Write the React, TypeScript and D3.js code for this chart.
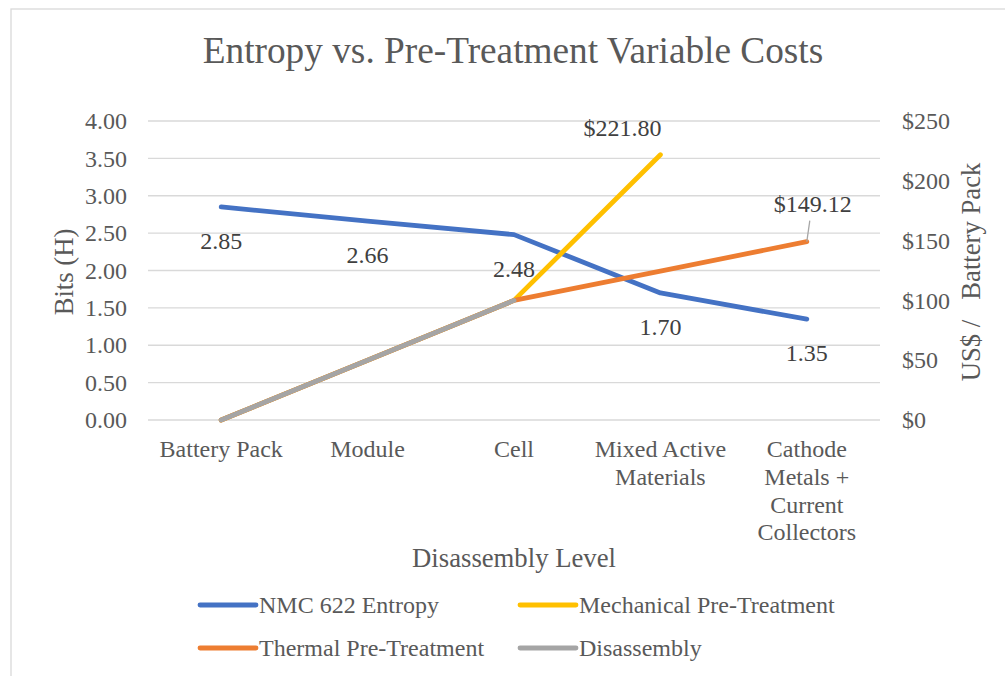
import React from 'react';
import * as d3 from 'd3';

const categories = [
  ['Battery Pack'],
  ['Module'],
  ['Cell'],
  ['Mixed Active', 'Materials'],
  ['Cathode', 'Metals +', 'Current', 'Collectors'],
];

const entropy = [2.85, 2.66, 2.48, 1.7, 1.35];
const mechanical = [0, 50, 100, 221.8, null];
const thermal = [0, 50, 100, 124.5, 149.12];
const disassembly = [0, 50, 100, null, null];

const leftTicks = [0, 0.5, 1, 1.5, 2, 2.5, 3, 3.5, 4];
const rightTicks = [0, 50, 100, 150, 200, 250];

const COLORS = {
  entropy: '#4472C4',
  mechanical: '#FFC000',
  thermal: '#ED7D31',
  disassembly: '#A5A5A5',
};

const FONT = '"Liberation Serif", "Times New Roman", serif';
const TEXT = '#595959';
const LABEL = '#404040';
const GRID = '#D9D9D9';

export default function App() {
  const width = 1005;
  const height = 676;
  const plot = { left: 148, right: 880, top: 121, bottom: 420 };

  const keys = categories.map((c) => c.join(' '));
  const x = d3.scalePoint<string>().domain(keys).range([plot.left, plot.right]).padding(0.5);
  const yL = d3.scaleLinear().domain([0, 4]).range([plot.bottom, plot.top]);
  const yR = d3.scaleLinear().domain([0, 250]).range([plot.bottom, plot.top]);

  const lineFor = (vals: (number | null)[], y: d3.ScaleLinear<number, number>) =>
    d3
      .line<number | null>()
      .defined((d) => d !== null)
      .x((_, i) => x(keys[i]) ?? 0)
      .y((d) => y(d as number))(vals) ?? '';

  const series = [
    { name: 'NMC 622 Entropy', vals: entropy, y: yL, color: COLORS.entropy },
    { name: 'Mechanical Pre-Treatment', vals: mechanical, y: yR, color: COLORS.mechanical },
    { name: 'Thermal Pre-Treatment', vals: thermal, y: yR, color: COLORS.thermal },
    { name: 'Disassembly', vals: disassembly, y: yR, color: COLORS.disassembly },
  ];

  const mechX = x(keys[3]) ?? 0;
  const mechY = yR(mechanical[3] as number);
  const thermX = x(keys[4]) ?? 0;
  const thermY = yR(thermal[4]);

  const legend = [
    { s: series[0], lx: 200, ly: 605 },
    { s: series[1], lx: 520, ly: 605 },
    { s: series[2], lx: 200, ly: 648 },
    { s: series[3], lx: 520, ly: 648 },
  ];

  return (
    <svg
      width={width}
      height={height}
      style={{ position: 'absolute', left: 0, top: 0, background: '#fff' }}
      fontFamily={FONT}
    >
      <rect x={11} y={9} width={1100} height={800} fill="#fff" stroke={GRID} strokeWidth={1.3} />

      <text x={513} y={63} textAnchor="middle" fontSize={37.3} fill={TEXT}>
        Entropy vs. Pre-Treatment Variable Costs
      </text>

      {/* gridlines */}
      {leftTicks.map((t) => (
        <line key={t} x1={plot.left} x2={plot.right} y1={yL(t)} y2={yL(t)} stroke={GRID} strokeWidth={1.3} />
      ))}

      {/* left ticks */}
      {leftTicks.map((t) => (
        <text key={t} x={127} y={yL(t)} dy="0.34em" textAnchor="end" fontSize={24} fill={TEXT}>
          {d3.format('.2f')(t)}
        </text>
      ))}

      {/* right ticks */}
      {rightTicks.map((t) => (
        <text key={t} x={902} y={yR(t)} dy="0.34em" textAnchor="start" fontSize={24} fill={TEXT}>
          {'$' + t}
        </text>
      ))}

      {/* category labels */}
      {categories.map((lines, i) => (
        <text key={i} x={x(keys[i])} y={449} textAnchor="middle" fontSize={24} fill={TEXT}>
          {lines.map((l, j) => (
            <tspan key={j} x={x(keys[i])} dy={j === 0 ? '0.34em' : 27.7}>
              {l}
            </tspan>
          ))}
        </text>
      ))}

      {/* axis titles */}
      <text x={514} y={567} textAnchor="middle" fontSize={26.7} fill={TEXT}>
        Disassembly Level
      </text>
      <text transform="translate(73,272) rotate(-90)" textAnchor="middle" fontSize={26.7} fill={TEXT}>
        Bits (H)
      </text>
      <text transform="translate(980,272) rotate(-90)" textAnchor="middle" fontSize={26.7} fill={TEXT}>
        {'US$\u00a0/\u00a0\u00a0\u00a0Battery Pack'}
      </text>

      {/* series */}
      {series.map((s) => (
        <path
          key={s.name}
          d={lineFor(s.vals, s.y)}
          fill="none"
          stroke={s.color}
          strokeWidth={4.8}
          strokeLinecap="round"
          strokeLinejoin="round"
        />
      ))}

      {/* entropy labels */}
      {entropy.map((v, i) => (
        <text key={i} x={x(keys[i])} y={yL(v) + 34} dy="0.34em" textAnchor="middle" fontSize={24} fill={LABEL}>
          {d3.format('.2f')(v)}
        </text>
      ))}

      {/* cost labels */}
      <text x={mechX - 38} y={mechY - 27} dy="0.34em" textAnchor="middle" fontSize={24} fill={LABEL}>
        {'$' + d3.format('.2f')(mechanical[3] as number)}
      </text>
      <line x1={thermX + 3} y1={thermY - 21} x2={thermX} y2={thermY} stroke="#A6A6A6" strokeWidth={1.3} />
      <text x={thermX + 6} y={thermY - 38} dy="0.34em" textAnchor="middle" fontSize={24} fill={LABEL}>
        {'$' + d3.format('.2f')(thermal[4])}
      </text>

      {/* legend */}
      {legend.map(({ s, lx, ly }) => (
        <g key={s.name}>
          <line x1={lx} x2={lx + 56} y1={ly} y2={ly} stroke={s.color} strokeWidth={4.8} strokeLinecap="round" />
          <text x={lx + 59} y={ly} dy="0.34em" fontSize={24} fill={TEXT}>
            {s.name}
          </text>
        </g>
      ))}
    </svg>
  );
}
